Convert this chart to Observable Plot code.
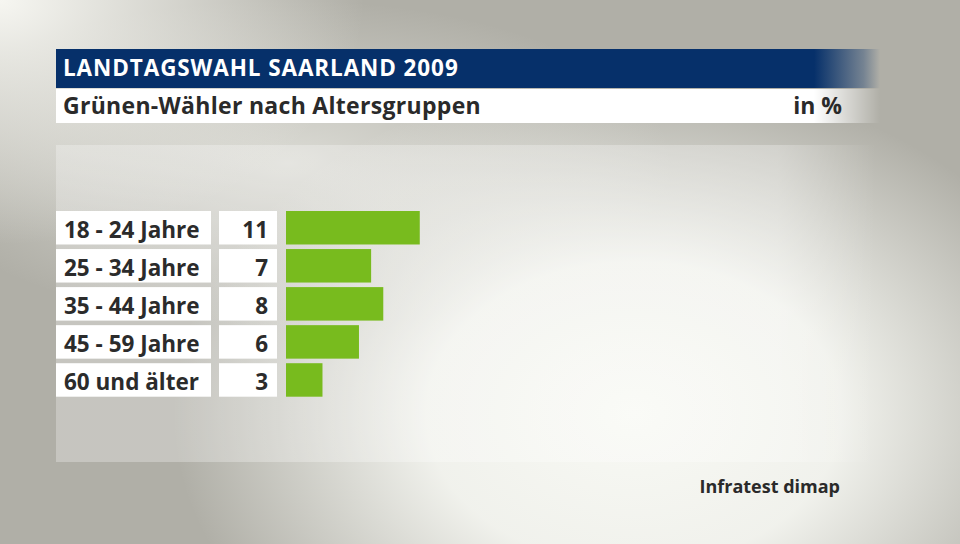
<!DOCTYPE html>
<html>
<head>
<meta charset="utf-8">
<script src="https://cdn.jsdelivr.net/npm/d3@7"></script>
<script src="https://cdn.jsdelivr.net/npm/@observablehq/plot@0.6"></script>
<style>
  html, body { margin: 0; padding: 0; }
  body { width: 960px; height: 544px; overflow: hidden; font-family: "Open Sans", sans-serif; }
  #page {
    position: relative; width: 960px; height: 544px; overflow: hidden;
    background:
      radial-gradient(ellipse 48% 62% at 66% 76%, rgba(248,249,244,1) 0%, rgba(246,247,242,0.92) 45%, rgba(246,247,242,0) 100%),
      radial-gradient(ellipse 38% 45% at 0% 0%, rgba(246,246,241,1) 0%, rgba(246,246,241,0) 100%),
      radial-gradient(ellipse 40% 30% at 30% 30%, rgba(230,230,224,0.8) 0%, rgba(230,230,224,0) 100%),
      #b0afa7;
  }
  #panel {
    position: absolute; left: 56px; top: 145px; width: 820px; height: 317px;
    background: linear-gradient(to right, rgba(255,255,255,0.28) 0%, rgba(255,255,255,0.28) 88%, rgba(255,255,255,0) 100%);
  }
  #titlebar {
    position: absolute; left: 56px; top: 49px; width: 824px; height: 39px;
    background: linear-gradient(to right, #06306a 0%, #06306a 92%, rgba(6,48,106,0.35) 98%, rgba(6,48,106,0) 100%);
  }
  #title {
    position: absolute; left: 63px; top: 48px; height: 39px; line-height: 39px;
    color: #ffffff; font-weight: 700; font-size: 22.5px; letter-spacing: 0.9px;
  }
  #subbar {
    position: absolute; left: 56px; top: 89px; width: 824px; height: 34px;
    background: linear-gradient(to right, #ffffff 0%, #ffffff 92%, rgba(255,255,255,0) 100%);
  }
  #subtitle {
    position: absolute; left: 63px; top: 88px; height: 34px; line-height: 34px;
    color: #2a2a2a; font-weight: 700; font-size: 23px; letter-spacing: 0.3px;
  }
  #unit {
    position: absolute; right: 118px; top: 88px; height: 34px; line-height: 34px;
    color: #2a2a2a; font-weight: 700; font-size: 23px;
  }
  #source {
    position: absolute; right: 120px; top: 474px; line-height: 24px;
    color: #2a2a2a; font-weight: 700; font-size: 18px;
  }
  #chart { position: absolute; left: 0; top: 145px; }
</style>
</head>
<body>
<div id="page">
  <div id="panel"></div>
  <div id="titlebar"></div>
  <div id="title">LANDTAGSWAHL SAARLAND 2009</div>
  <div id="subbar"></div>
  <div id="subtitle">Grünen-Wähler nach Altersgruppen</div>
  <div id="unit">in %</div>
  <div id="chart"></div>
  <div id="source">Infratest dimap</div>
</div>
<script>
const groups = ["18 - 24 Jahre", "25 - 34 Jahre", "35 - 44 Jahre", "45 - 59 Jahre", "60 und älter"];
const values = [11, 7, 8, 6, 3];

const data = groups.map((g, i) => ({group: g, value: values[i]}));

const font = "'Open Sans', sans-serif";

const chart = Plot.plot({
  width: 960,
  height: 317,
  marginLeft: 286,
  marginRight: 66,
  marginTop: 66,
  marginBottom: 65.3,
  x: {domain: [0, 50], axis: null},
  y: {domain: groups, axis: null, paddingInner: 0.12, paddingOuter: 0, round: false},
  style: {background: "transparent", fontFamily: font, overflow: "visible"},
  marks: [
    Plot.barX(data, {y: "group", x1: 0, x2: 0, fill: "#ffffff", insetLeft: -230, insetRight: 75}),
    Plot.barX(data, {y: "group", x1: 0, x2: 0, fill: "#ffffff", insetLeft: -67, insetRight: 9}),
    Plot.barX(data, {y: "group", x: "value", fill: "#78bb1e"}),
    Plot.text(data, {y: "group", x: 0, text: "group", textAnchor: "start", dx: -222.5, dy: 2.5,
      fill: "#2b2b2b", fontSize: 22.5, fontWeight: 700}),
    Plot.text(data, {y: "group", x: 0, text: d => String(d.value), textAnchor: "end", dx: -18.5, dy: 2.5,
      fill: "#2b2b2b", fontSize: 22.5, fontWeight: 700})
  ]
});
document.getElementById("chart").appendChild(chart);
</script>
</body>
</html>
